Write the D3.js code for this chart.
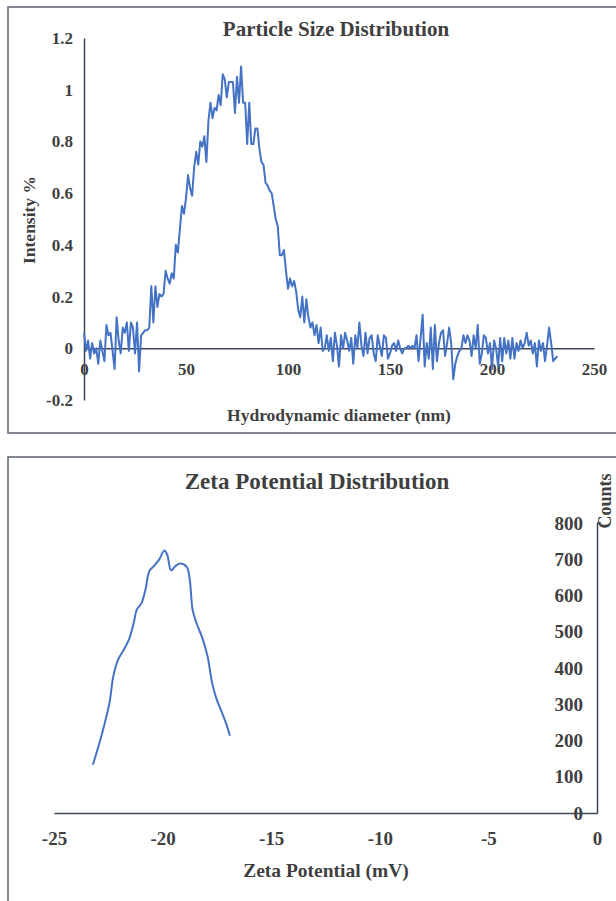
<!DOCTYPE html>
<html>
<head>
<meta charset="utf-8">
<script src="https://cdn.jsdelivr.net/npm/d3@7"></script>
<style>
  body { margin: 0; background: #fff; }
  svg text { font-family: "Liberation Serif", "Times New Roman", serif; font-weight: bold; fill: #3f3f3f; }
</style>
</head>
<body>
<script>
// particle size data (intensity %, one reading per nm from 0 nm)
var intensity = [
  0.06,-0.01,0.03,-0.04,0.02,-0.02,0.0,-0.06,0.03,-0.01,
  -0.05,0.09,0.05,0.06,-0.01,-0.08,0.12,0.03,-0.02,0.08,
  0.06,0.10,-0.01,0.10,0.08,-0.02,0.10,-0.09,0.05,0.06,
  0.07,0.07,0.08,0.24,0.10,0.24,0.16,0.21,0.20,0.21,
  0.30,0.27,0.25,0.29,0.27,0.40,0.37,0.46,0.55,0.52,
  0.58,0.67,0.62,0.59,0.70,0.76,0.71,0.80,0.78,0.82,
  0.72,0.88,0.95,0.89,0.93,0.92,0.98,0.94,1.06,1.04,
  0.97,1.03,1.03,1.03,0.91,1.05,0.95,1.09,0.95,0.95,
  0.79,0.95,0.79,0.79,0.85,0.85,0.77,0.72,0.71,0.64,
  0.63,0.61,0.60,0.55,0.50,0.47,0.36,0.36,0.38,0.30,
  0.23,0.27,0.24,0.26,0.22,0.15,0.12,0.20,0.10,0.19,
  0.12,0.08,0.10,0.05,0.09,0.02,0.08,-0.01,0.0,0.05,
  -0.01,0.04,-0.05,0.06,0.01,-0.07,0.05,0.0,0.06,0.03,
  -0.01,0.04,-0.06,0.05,0.0,0.10,0.01,-0.03,0.06,-0.02,
  0.04,0.05,-0.02,-0.05,0.05,0.01,-0.03,0.05,0.04,-0.04,
  -0.02,0.01,0.02,-0.01,0.03,0.0,-0.02,0.0,0.0,0.01,
  0.0,0.01,0.0,0.05,-0.05,0.04,0.13,-0.07,0.02,-0.04,
  0.08,-0.08,0.09,-0.05,0.02,0.06,0.07,-0.03,0.02,0.08,
  0.02,-0.12,-0.06,-0.03,-0.01,0.0,0.05,0.02,0.05,0.03,
  -0.03,0.05,0.0,0.09,-0.06,-0.02,0.05,0.04,-0.02,0.02,
  -0.08,0.03,0.0,-0.07,0.04,-0.05,0.04,-0.02,0.03,-0.04,
  0.04,-0.04,0.02,-0.01,0.03,0.0,0.02,0.06,0.01,0.03,
  -0.02,0.02,-0.07,0.03,-0.01,0.02,-0.05,0.01,0.08,0.02,
  -0.05,-0.04,-0.03
];
var sizeXTicks = [0, 50, 100, 150, 200, 250];
var sizeYTicks = [-0.2, 0, 0.2, 0.4, 0.6, 0.8, 1, 1.2];

// zeta potential data
var zeta = [-23.21,-22.78,-22.45,-22.27,-22.05,-21.78,-21.55,-21.33,-21.19,-20.97,
            -20.79,-20.61,-20.39,-20.16,-19.92,-19.79,-19.61,-19.43,-19.20,-18.89,
            -18.75,-18.62,-18.44,-18.17,-17.93,-17.72,-17.53,-17.32,-17.08,-16.90];
var counts = [133,221,303,377,423,451,478,524,561,579,
              616,667,682,699,724,713,669,680,688,679,
              644,561,524,483,432,359,317,285,248,213];
var zetaXTicks = [-25, -20, -15, -10, -5, 0];
var zetaYTicks = [0, 100, 200, 300, 400, 500, 600, 700, 800];

var blue = "#4472C4";
var axisCol = "#3b4556";

var svg = d3.select("body").append("svg")
    .attr("width", 616)
    .attr("height", 901);

// ---------- top panel ----------
svg.append("rect")
    .attr("x", 8).attr("y", 7)
    .attr("width", 620).attr("height", 426)
    .attr("fill", "none").attr("stroke", "#59616c").attr("stroke-width", 1.5);

var x1 = d3.scaleLinear().domain([0, 250]).range([84, 594]);
var y1 = d3.scaleLinear().domain([-0.2, 1.2]).range([400, 38]);

var ax1 = svg.append("g")
    .attr("transform", "translate(0," + y1(0) + ")")
    .call(d3.axisBottom(x1).tickValues(sizeXTicks).tickSize(0).tickPadding(15).tickFormat(d3.format("d")));
var ay1 = svg.append("g")
    .attr("transform", "translate(" + x1(0) + ",0)")
    .call(d3.axisLeft(y1).tickValues(sizeYTicks).tickSize(0).tickPadding(11)
        .tickFormat(function(d){ return String(+d.toFixed(1)); }));
[ax1, ay1].forEach(function(a){
    a.select(".domain").attr("stroke", axisCol).attr("stroke-width", 1.5);
    a.selectAll("text").style("font-size", "17px").attr("fill", "#3f3f3f");
});

var line1 = d3.line()
    .x(function(d, i){ return x1(i); })
    .y(function(d){ return y1(d); });
svg.append("path")
    .datum(intensity)
    .attr("d", line1)
    .attr("fill", "none").attr("stroke", blue).attr("stroke-width", 2)
    .attr("stroke-linejoin", "round");

svg.append("text")
    .attr("x", 336).attr("y", 36)
    .attr("text-anchor", "middle")
    .style("font-size", "21px")
    .text("Particle Size Distribution");
svg.append("text")
    .attr("x", 339).attr("y", 421)
    .attr("text-anchor", "middle")
    .style("font-size", "17.5px")
    .text("Hydrodynamic diameter (nm)");
svg.append("text")
    .attr("transform", "translate(35,220) rotate(-90)")
    .attr("text-anchor", "middle")
    .style("font-size", "17.5px")
    .text("Intensity %");

// ---------- bottom panel ----------
svg.append("rect")
    .attr("x", 8).attr("y", 457)
    .attr("width", 620).attr("height", 460)
    .attr("fill", "none").attr("stroke", "#59616c").attr("stroke-width", 1.5);

var x2 = d3.scaleLinear().domain([-25, 0]).range([54, 597]);
var y2 = d3.scaleLinear().domain([0, 800]).range([813, 523]);

var ax2 = svg.append("g")
    .attr("transform", "translate(0," + y2(0) + ")")
    .call(d3.axisBottom(x2).tickValues(zetaXTicks).tickSize(0).tickPadding(19)
        .tickFormat(function(d){ return String(d); }));
var ay2 = svg.append("g")
    .attr("transform", "translate(" + x2(0) + ",0)")
    .call(d3.axisLeft(y2).tickValues(zetaYTicks).tickSize(0).tickPadding(14).tickFormat(d3.format("d")));
[ax2, ay2].forEach(function(a){
    a.select(".domain").attr("stroke", axisCol).attr("stroke-width", 1.5);
    a.selectAll("text").style("font-size", "19px").attr("fill", "#3f3f3f");
});
// little tick at the top of the counts axis
svg.append("line")
    .attr("x1", x2(0)).attr("x2", x2(0) + 4)
    .attr("y1", y2(800)).attr("y2", y2(800))
    .attr("stroke", axisCol).attr("stroke-width", 1.5);

var line2 = d3.line()
    .x(function(d, i){ return x2(zeta[i]); })
    .y(function(d){ return y2(d); })
    .curve(d3.curveCatmullRom.alpha(0.5));
svg.append("path")
    .datum(counts)
    .attr("d", line2)
    .attr("fill", "none").attr("stroke", blue).attr("stroke-width", 2);

svg.append("text")
    .attr("x", 317).attr("y", 489)
    .attr("text-anchor", "middle")
    .style("font-size", "23px")
    .text("Zeta Potential Distribution");
svg.append("text")
    .attr("x", 326).attr("y", 877)
    .attr("text-anchor", "middle")
    .style("font-size", "19.5px")
    .text("Zeta Potential (mV)");
svg.append("text")
    .attr("transform", "translate(611,501) rotate(-90)")
    .attr("text-anchor", "middle")
    .style("font-size", "18px")
    .text("Counts");
</script>
</body>
</html>
